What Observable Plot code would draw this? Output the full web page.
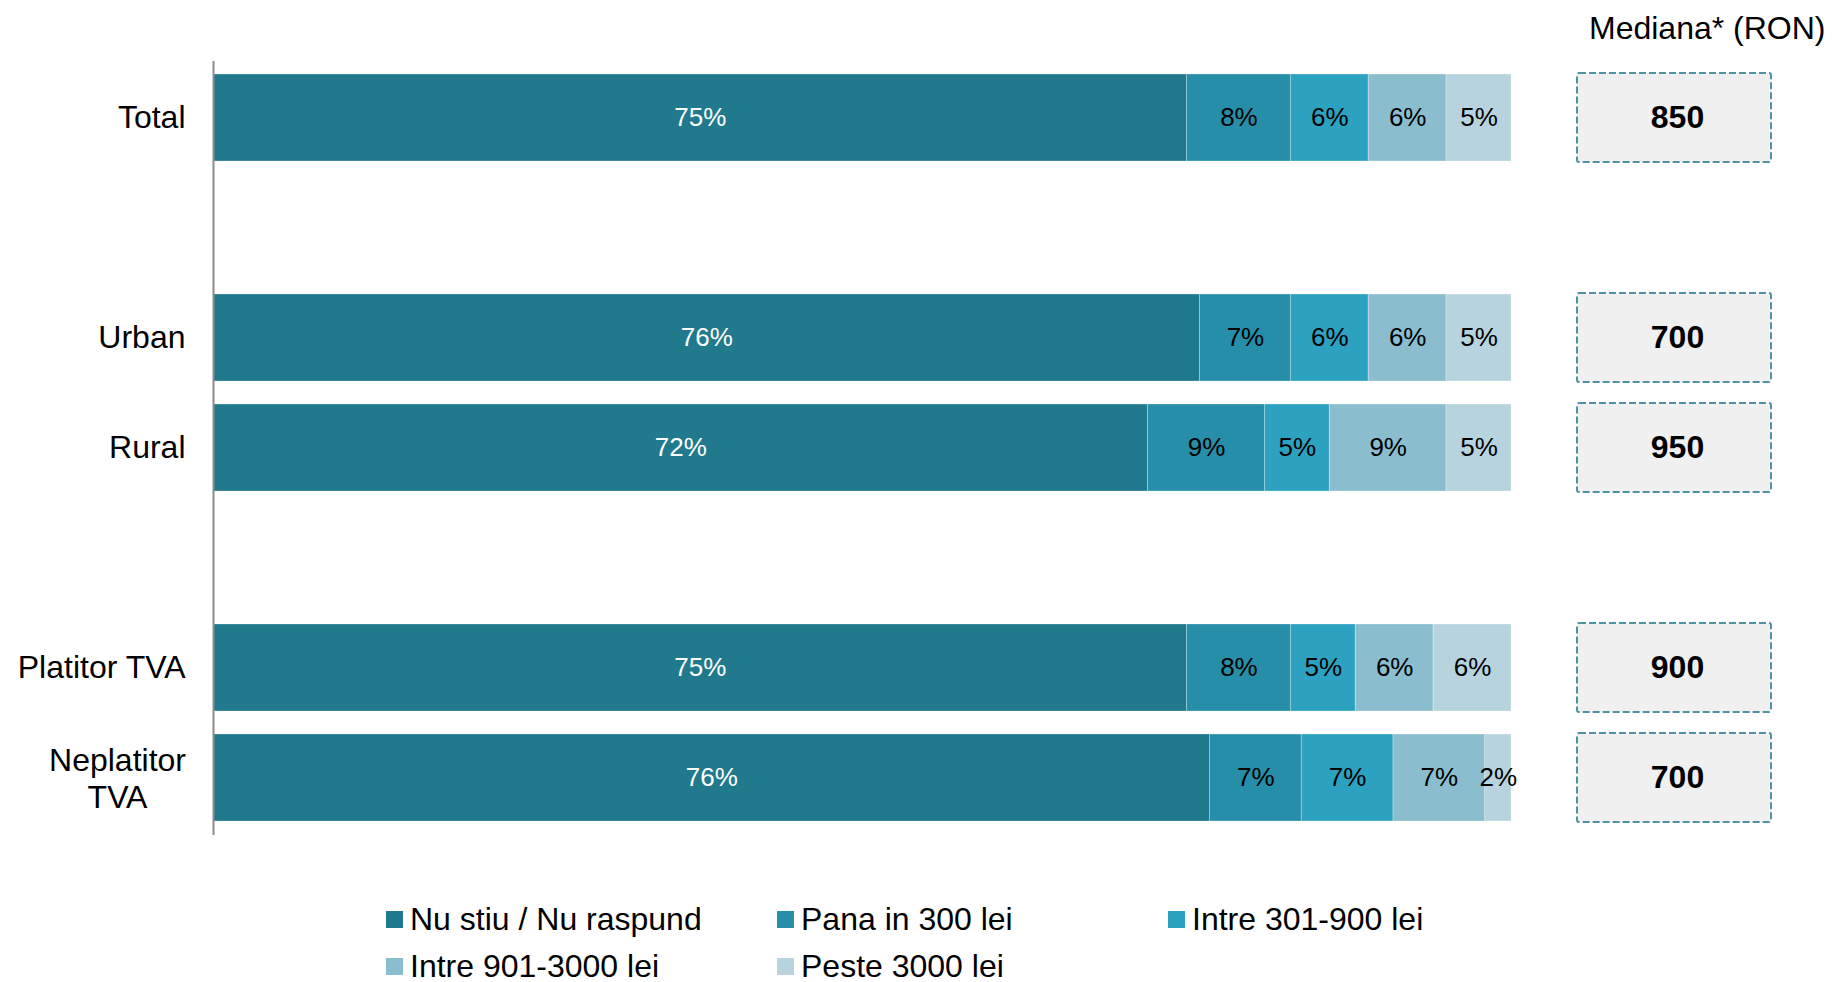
<!DOCTYPE html>
<html>
<head>
<meta charset="utf-8">
<script src="https://cdn.jsdelivr.net/npm/d3@7"></script>
<script src="https://cdn.jsdelivr.net/npm/@observablehq/plot@0.6"></script>
<style>
  html, body { margin: 0; padding: 0; background: #fff; }
  body { width: 1832px; height: 982px; overflow: hidden; font-family: "Liberation Sans", Arial, sans-serif; }
  #wrap { position: relative; width: 1832px; height: 982px; }
  #wrap > svg { position: absolute; left: 0; top: 0; }
  .leg { position: absolute; display: flex; align-items: center; font-size: 32px; color: #000; white-space: nowrap; }
  .leg span.sw { display: inline-block; width: 17px; height: 17px; margin-right: 7px; }
</style>
</head>
<body>
<div id="wrap"></div>
<script>
// ---- data ----
const categories = ["Total", "sp1", "Urban", "Rural", "sp2", "Platitor TVA", "Neplatitor\nTVA"];
const barCategories = ["Total", "Urban", "Rural", "Platitor TVA", "Neplatitor\nTVA"];
const segments = ["Nu stiu / Nu raspund", "Pana in 300 lei", "Intre 301-900 lei", "Intre 901-3000 lei", "Peste 3000 lei"];
const nuStiu    = [75, 76, 72, 75, 76];
const pana300   = [8, 7, 9, 8, 7];
const intre301  = [6, 6, 5, 5, 7];
const intre901  = [6, 6, 9, 6, 7];
const peste3000 = [5, 5, 5, 6, 2];
const medians   = [850, 700, 950, 900, 700];
const medianTitle = "Mediana* (RON)";
const colors = ["#20798c", "#268ea8", "#2da2c0", "#8abecf", "#b7d4de"];

const series = [nuStiu, pana300, intre301, intre901, peste3000];
const rows = [];
barCategories.forEach((c, i) => {
  segments.forEach((s, j) => rows.push({cat: c, seg: s, value: series[j][i]}));
});
const medianRows = barCategories.map((c, i) => ({cat: c, v: medians[i]}));

const W = 1832, H = 880;
const font = "'Liberation Sans', Arial, sans-serif";
const yScale = {type: "band", domain: categories, paddingInner: 0.207, paddingOuter: 0.09};

const stackOpts = {x: "value", y: "cat", z: "seg", offset: "normalize", text: d => d.value + "%", fontSize: 26};

const main = Plot.plot({
  width: W, height: H,
  marginLeft: 213, marginRight: 321, marginTop: 61, marginBottom: 45,
  style: {fontFamily: font, background: "transparent"},
  x: {domain: [0, 1], axis: null},
  y: {...yScale, axis: null},
  color: {domain: segments, range: colors},
  marks: [
    Plot.barX(rows, Plot.stackX({x: "value", y: "cat", fill: "seg", offset: "normalize",
      stroke: "#ffffff", strokeWidth: 0.8, strokeOpacity: 0.35})),
    Plot.text(rows, Plot.filter(d => d.seg === segments[0], Plot.stackX({...stackOpts, fill: "#ffffff"}))),
    Plot.text(rows, Plot.filter(d => d.seg !== segments[0], Plot.stackX({...stackOpts, fill: "#000000"}))),
    Plot.ruleX([0], {stroke: "#8c8c8c", strokeWidth: 2}),
    // single-line labels, right aligned
    Plot.text(barCategories.filter(d => !d.includes("\n")), {y: d => d, frameAnchor: "left", textAnchor: "end", dx: -28,
      fontSize: 32, fill: "#000", text: d => d}),
    // multi-line label, lines centered
    Plot.text(barCategories.filter(d => d.includes("\n")), {y: d => d, frameAnchor: "left", textAnchor: "middle", dx: -96,
      fontSize: 32, lineHeight: 1.15, fill: "#000", text: d => d})
  ]
});

const med = Plot.plot({
  width: W, height: H,
  marginLeft: 1577, marginRight: 61, marginTop: 61, marginBottom: 45,
  style: {fontFamily: font, background: "transparent", overflow: "visible"},
  x: {type: "band", domain: ["m"], padding: 0, axis: null},
  y: {...yScale, axis: null},
  marks: [
    Plot.cell(medianRows, {x: () => "m", y: "cat", fill: "#f0f0f0", stroke: "#4e93a3",
      strokeWidth: 2, strokeDasharray: "7,3", rx: 2, insetTop: -1, insetBottom: -1}),
    Plot.text(medianRows, {x: () => "m", y: "cat", text: d => String(d.v), fontSize: 32,
      fontWeight: "bold", fill: "#000", dx: 3}),
    Plot.text([medianTitle], {frameAnchor: "top-right", textAnchor: "end", dx: 54, dy: -33,
      lineAnchor: "middle", fontSize: 32, fill: "#000", text: d => d})
  ]
});

const wrap = document.getElementById("wrap");
wrap.appendChild(main);
wrap.appendChild(med);

// legend
const legPos = [[386, 919], [777, 919], [1168, 919], [386, 966], [777, 966]];
segments.forEach((s, i) => {
  const d = document.createElement("div");
  d.className = "leg";
  d.style.left = legPos[i][0] + "px";
  d.style.top = (legPos[i][1] - 19) + "px";
  d.style.height = "38px";
  const sw = document.createElement("span");
  sw.className = "sw";
  sw.style.background = colors[i];
  d.appendChild(sw);
  d.appendChild(document.createTextNode(s));
  wrap.appendChild(d);
});
</script>
</body>
</html>
